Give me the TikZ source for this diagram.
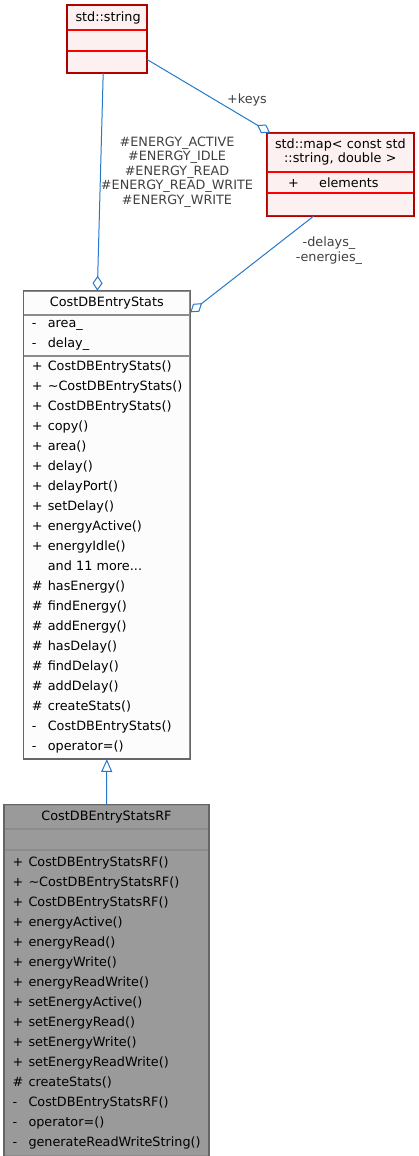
\documentclass[tikz,border=0pt]{standalone}
\usepackage{fontspec}
\setmainfont{DejaVu Sans}
\usetikzlibrary{arrows.meta}

\definecolor{edgeblue}{RGB}{38,120,200}
\definecolor{lblgrey}{RGB}{64,64,64}
\definecolor{extred}{RGB}{176,0,0}
\definecolor{extline}{RGB}{255,0,0}
\definecolor{extfill}{RGB}{252,240,240}
\definecolor{clsgrey}{RGB}{102,102,102}
\definecolor{clsline}{RGB}{140,140,140}
\definecolor{clsfill}{RGB}{251,252,251}
\definecolor{rffill}{RGB}{154,154,154}

\newcommand{\mrow}[2]{\makebox[12pt][l]{#1}#2}

\tikzset{every picture/.style={line width=0.75pt}}
\tikzset{
	part/.style={anchor=north west, inner xsep=6pt, inner ysep=0pt, align=left,
		font=\fontsize{9.6}{15}\selectfont},
	extpart/.style={part, draw=extline, fill=extfill},
	clspart/.style={part, draw=clsline, fill=clsfill},
	rfpart/.style={part, draw=clsline, fill=rffill},
	frame/.style={line width=1.1pt},
	edge/.style={draw=edgeblue, line width=0.75pt},
	lbl/.style={text=lblgrey, inner sep=0pt, font=\fontsize{9.6}{10.9}\selectfont},
	agg/.style={edge, {Diamond[open,length=11.25pt,width=7.5pt]}-},
	inh/.style={edge, -{Triangle[open,length=9.75pt,width=8.25pt]}}
}

\begin{document}
\begin{tikzpicture}[x=0.75pt,y=0.75pt,yscale=-1,xscale=1]
	\useasboundingbox (0,0) rectangle (418,1156);

	%Class: std::string
	\node [extpart, minimum width=59.25pt, text width=47.25pt, minimum height=18pt, align=center] (strT) at (67,5) {std::string};
	\node [extpart, minimum width=59.25pt, text width=47.25pt, minimum height=15pt] (strA) at (strT.south west) {};
	\node [extpart, minimum width=59.25pt, text width=47.25pt, minimum height=15.75pt] (strE) at (strA.south west) {};
	\draw [frame, extred] (strT.north west) rectangle (strE.south east);

	%Class: std::map
	\node [extpart, minimum width=109.7pt, inner xsep=0pt, text width=109.7pt, minimum height=28.7pt, align=center,
		font=\fontsize{9.6}{10.5}\selectfont] (mapT) at (266.7,132.7) {std::map<~const~std\\::string, double >};
	\node [extpart, minimum width=109.7pt, inner xsep=15.75pt, text width=78.2pt, minimum height=15pt] (mapA) at (mapT.south west) {\makebox[23.25pt][l]{+}elements};
	\node [extpart, minimum width=109.7pt, text width=97.7pt, minimum height=16.7pt] (mapE) at (mapA.south west) {};
	\draw [frame, extred] (mapT.north west) rectangle (mapE.south east);

	%Class: CostDBEntryStats
	\node [clspart, minimum width=124.5pt, text width=112.5pt, minimum height=17.25pt, align=center] (statsT) at (23.3,290.7) {CostDBEntryStats};
	\node [clspart, minimum width=124.5pt, text width=112.5pt, minimum height=30pt] (statsA) at (statsT.south west) {%
		\mrow{-}{area\_}\\ \mrow{-}{delay\_}};
	\node [clspart, minimum width=124.5pt, text width=112.5pt, minimum height=301.7pt] (statsM) at (statsA.south west) {%
		\mrow{+}{CostDBEntryStats()}\\
		\mrow{+}{\textasciitilde CostDBEntryStats()}\\
		\mrow{+}{CostDBEntryStats()}\\
		\mrow{+}{copy()}\\
		\mrow{+}{area()}\\
		\mrow{+}{delay()}\\
		\mrow{+}{delayPort()}\\
		\mrow{+}{setDelay()}\\
		\mrow{+}{energyActive()}\\
		\mrow{+}{energyIdle()}\\
		\mrow{}{and 11 more...}\\
		\mrow{\#}{hasEnergy()}\\
		\mrow{\#}{findEnergy()}\\
		\mrow{\#}{addEnergy()}\\
		\mrow{\#}{hasDelay()}\\
		\mrow{\#}{findDelay()}\\
		\mrow{\#}{addDelay()}\\
		\mrow{\#}{createStats()}\\
		\mrow{-}{CostDBEntryStats()}\\
		\mrow{-}{operator=()}};
	\draw [frame, clsgrey] (statsT.north west) rectangle (statsM.south east);

	%Class: CostDBEntryStatsRF
	\node [rfpart, minimum width=153pt, text width=141pt, minimum height=17.7pt, align=center] (rfT) at (4,804.7) {CostDBEntryStatsRF};
	\node [rfpart, minimum width=153pt, text width=141pt, minimum height=15pt] (rfA) at (rfT.south west) {};
	\node [rfpart, minimum width=153pt, text width=141pt, minimum height=228.75pt] (rfM) at (rfA.south west) {%
		\mrow{+}{CostDBEntryStatsRF()}\\
		\mrow{+}{\textasciitilde CostDBEntryStatsRF()}\\
		\mrow{+}{CostDBEntryStatsRF()}\\
		\mrow{+}{energyActive()}\\
		\mrow{+}{energyRead()}\\
		\mrow{+}{energyWrite()}\\
		\mrow{+}{energyReadWrite()}\\
		\mrow{+}{setEnergyActive()}\\
		\mrow{+}{setEnergyRead()}\\
		\mrow{+}{setEnergyWrite()}\\
		\mrow{+}{setEnergyReadWrite()}\\
		\mrow{\#}{createStats()}\\
		\mrow{-}{CostDBEntryStatsRF()}\\
		\mrow{-}{operator=()}\\
		\mrow{-}{generateReadWriteString()}};
	\draw [frame, clsgrey] (rfT.north west) rectangle (rfM.south east);

	%Connectors
	\draw [agg] ([xshift=-7.1pt]statsT.north) -- ([xshift=-2.85pt]strE.south);
	\draw [agg] ([xshift=2.5pt]mapT.north west) -- ([yshift=-1.9pt]strE.east);
	\draw [agg] ([yshift=-32.5pt]statsM.north east) -- ([xshift=-20.1pt]mapE.south);
	\draw [inh] (rfT.north) -- (statsM.south);

	% Text Node
	\node [lbl] (keysLbl) at (247,100) {+keys};
	% Text Node
	\node [lbl, align=center] (energyLbl) at (177,172) {\#ENERGY\_ACTIVE\\ \#ENERGY\_IDLE\\ \#ENERGY\_READ\\ \#ENERGY\_READ\_WRITE\\ \#ENERGY\_WRITE};
	% Text Node
	\node [lbl, align=center] (delaysLbl) at (329,250.5) {-delays\_\\ -energies\_};
\end{tikzpicture}
\end{document}
